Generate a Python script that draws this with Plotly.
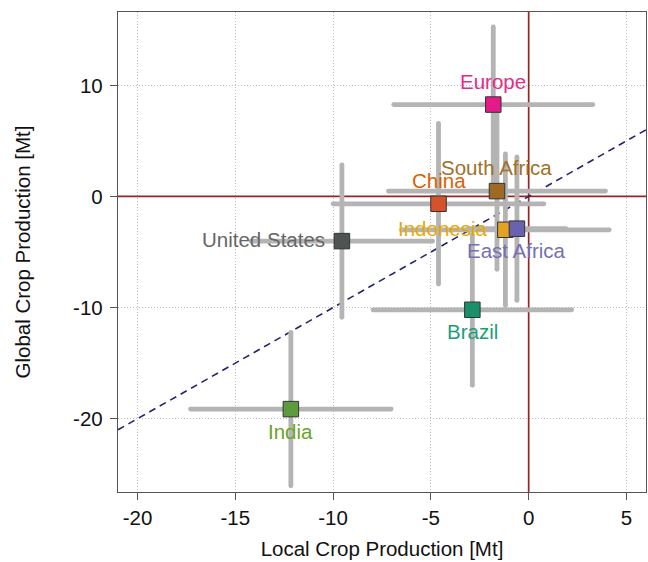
import plotly.graph_objects as go

# Regional change in crop production: local vs. global effect (Mt), with uncertainty
regions = ["Europe", "South Africa", "China", "Indonesia", "East Africa",
           "United States", "Brazil", "India"]
local_change = [-1.81, -1.62, -4.61, -1.19, -0.60, -9.55, -2.88, -12.16]
global_change = [8.27, 0.48, -0.66, -3.00, -2.90, -4.02, -10.20, -19.14]
local_err = [5.09, 5.55, 5.39, 5.31, 2.50, 4.64, 5.08, 5.13]
global_err = [6.98, 7.04, 7.23, 6.83, 6.46, 6.86, 6.80, 6.90]

x_ticks = [-20, -15, -10, -5, 0, 5]
y_ticks = [-20, -10, 0, 10]
x_range = [-21, 6]
y_range = [-26.6, 16.6]

fill_colors = ["#E5198A", "#9C6A22", "#D6522A", "#E3A224", "#6A62B0",
               "#4F5353", "#18906A", "#5C9C3E"]
text_colors = ["#E7298A", "#A0712A", "#D95F02", "#E6AB02", "#7570B3",
               "#666666", "#1B9E77", "#66A61E"]
label_side = {"Europe": "above", "South Africa": "above", "China": "above",
              "Indonesia": "left", "East Africa": "below",
              "United States": "left", "Brazil": "below", "India": "below"}

FONT = "Liberation Sans, Arial, Helvetica, sans-serif"
fig = go.Figure()

# zero reference lines
fig.add_trace(go.Scatter(
    x=[x_range[0], x_range[1], None, 0, 0],
    y=[0, 0, None, y_range[0], y_range[1]],
    mode="lines", line=dict(color="#962626", width=1.7),
    hoverinfo="skip", showlegend=False))

# 1:1 line
fig.add_trace(go.Scatter(
    x=x_range, y=x_range, mode="lines",
    line=dict(color="#25246E", width=1.6, dash="7px,5px"),
    hoverinfo="skip", showlegend=False))

# uncertainty bars (horizontal and vertical), round-ended
bx, by = [], []
for x, y, ex, ey in zip(local_change, global_change, local_err, global_err):
    bx += [x - ex, x + ex, None, x, x, None]
    by += [y, y, None, y - ey, y + ey, None]
fig.add_trace(go.Scatter(
    x=bx, y=by, mode="lines+markers",
    line=dict(color="#B4B4B4", width=4.8),
    marker=dict(color="#B4B4B4", size=4.8, line=dict(width=0)),
    hoverinfo="skip", showlegend=False))

# region points
fig.add_trace(go.Scatter(
    x=local_change, y=global_change, mode="markers",
    marker=dict(symbol="square", size=15.5, color=fill_colors,
                line=dict(color="#333333", width=1)),
    text=regions, hoverinfo="text", showlegend=False))

# region labels
for name, x, y, c in zip(regions, local_change, global_change, text_colors):
    side = label_side[name]
    ann = dict(x=x, y=y, xref="x", yref="y", text=name, showarrow=False,
               font=dict(family=FONT, size=20.5, color=c))
    if side == "above":
        ann.update(xanchor="center", yanchor="middle", yshift=23.5)
    elif side == "below":
        ann.update(xanchor="center", yanchor="middle", yshift=-22)
    else:
        ann.update(xanchor="right", yanchor="middle", xshift=-15, yshift=1.5)
    fig.add_annotation(**ann)

axis_common = dict(
    showline=True, mirror=True, linecolor="#555555", linewidth=1.3,
    ticks="outside", ticklen=7, tickwidth=1.3, tickcolor="#555555",
    showgrid=True, gridcolor="#BDBDBD", gridwidth=1, griddash="1px,2px",
    zeroline=False, tickfont=dict(family=FONT, size=20.5, color="#111111"),
)

fig.update_xaxes(
    range=x_range, tickmode="array", tickvals=x_ticks,
    ticktext=[str(v) for v in x_ticks],
    title=dict(text="Local Crop Production [Mt]", standoff=13,
               font=dict(family=FONT, size=20.5, color="#111111")),
    **axis_common)
fig.update_yaxes(
    range=y_range, tickmode="array", tickvals=y_ticks,
    ticktext=[str(v) for v in y_ticks], ticklabelstandoff=3,
    title=dict(text="Global Crop Production [Mt]", standoff=36,
               font=dict(family=FONT, size=20.5, color="#111111")),
    **axis_common)

fig.update_layout(
    width=648, height=562,
    margin=dict(l=118, r=2, t=12, b=70),
    plot_bgcolor="white", paper_bgcolor="white",
    font=dict(family=FONT),
)

fig.write_html("out.html")
